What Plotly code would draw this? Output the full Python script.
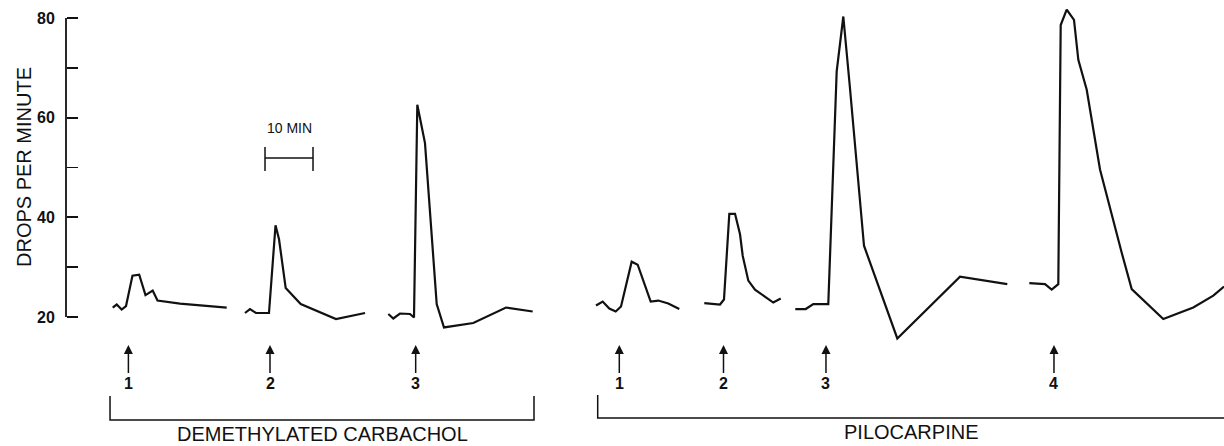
import plotly.graph_objects as go

# ---------------- data (time in minutes, drops per minute) ----------------
dc1_t = [9.73, 10.56, 11.6, 12.5, 13.85, 15.25, 16.56, 18.06, 19.06, 23.75, 33.48]
dc1_v = [21.9, 22.5, 21.5, 22.2, 28.3, 28.5, 24.4, 25.3, 23.3, 22.7, 21.9]
dc2_t = [37.29, 38.33, 39.58, 42.29, 43.65, 44.38, 45.77, 48.9, 56.25, 62.3]
dc2_v = [20.8, 21.6, 20.8, 20.8, 38.4, 35.6, 25.8, 22.6, 19.6, 20.8]
dc3_t = [67.15, 68.19, 69.58, 71.67, 72.5, 72.71, 73.19, 74.79, 77.23, 78.75, 84.85, 91.67, 97.23]
dc3_v = [20.6, 19.7, 20.7, 20.6, 19.9, 34.9, 62.6, 54.9, 22.6, 17.9, 18.8, 21.9, 21.1]
pc1_t = [110.42, 111.81, 113.19, 114.52, 115.63, 117.85, 119.1, 121.81, 123.4, 125.48, 127.77]
pc1_v = [22.3, 23.1, 21.7, 21.1, 22.1, 31.1, 30.5, 23.1, 23.3, 22.7, 21.6]
pc2_t = [132.98, 136.25, 137.08, 138.19, 139.38, 140.42, 140.98, 142.15, 143.54, 147.35, 148.9]
pc2_v = [22.8, 22.5, 23.5, 40.7, 40.7, 36.6, 32.3, 27.3, 25.5, 22.9, 23.7]
pc3_t = [151.94, 154.1, 155.69, 158.81, 160.56, 161.94, 163.33, 166.25, 173.19, 186.25, 196.1]
pc3_v = [21.6, 21.6, 22.6, 22.6, 69.3, 80.3, 65.9, 34.3, 15.7, 28.1, 26.6]
pc4_t = [200.69, 203.96, 205.35, 206.73, 207.23, 208.48, 210.0, 210.9, 212.65, 215.42,
         219.94, 222.02, 228.6, 234.85, 239.02, 241.25]
pc4_v = [26.8, 26.6, 25.5, 26.6, 78.6, 81.7, 79.6, 71.6, 65.6, 49.6,
         32.9, 25.6, 19.6, 21.9, 24.3, 26.1]

segments_t = [dc1_t, dc2_t, dc3_t, pc1_t, pc2_t, pc3_t, pc4_t]
segments_v = [dc1_v, dc2_v, dc3_v, pc1_v, pc2_v, pc3_v, pc4_v]

injection_times = [13.0, 42.5, 72.85, 115.27, 136.98, 158.33, 205.83]
injection_labels = ["1", "2", "3", "1", "2", "3", "4"]

group_names = ["DEMETHYLATED CARBACHOL", "PILOCARPINE"]
group_start = [9.17, 110.77]
group_end = [97.5, 241.25]

y_tickvals = [20, 30, 40, 50, 60, 70, 80]
y_ticktext = ["20", "", "40", "", "60", "", "80"]

scale_start = 41.46
scale_len = 10
scale_label = "10 MIN"
y_title = "DROPS PER MINUTE"

# ---------------- geometry helpers ----------------
W, H = 1224, 446
AX_PX = 66          # pixel x of y axis line
LABEL_RIGHT_PX = 56
PX_PER_MIN = 4.8
Y80_PX, Y20_PX = 18, 317
PX_PER_UNIT = (Y20_PX - Y80_PX) / 60.0


def val(py):
    return 80 - (py - Y80_PX) / PX_PER_UNIT


x_range = [-AX_PX / PX_PER_MIN, (W - AX_PX) / PX_PER_MIN]
y_range = [val(H), val(0)]

BLACK = "#111111"
FONT = "Liberation Sans, Arial, Helvetica, sans-serif"

fig = go.Figure()
for t, v in zip(segments_t, segments_v):
    fig.add_trace(go.Scatter(x=t, y=v, mode="lines",
                             line=dict(color=BLACK, width=2.2),
                             showlegend=False, hoverinfo="skip"))

shapes = []
# y axis line
shapes.append(dict(type="line", xref="paper", yref="y", x0=AX_PX / W, x1=AX_PX / W,
                   y0=20, y1=80, line=dict(color=BLACK, width=1.8)))

# scale bar
sy = val(158)
shapes.append(dict(type="line", xref="x", yref="y", x0=scale_start, x1=scale_start + scale_len,
                   y0=sy, y1=sy, line=dict(color=BLACK, width=1.5)))
for xx in (scale_start, scale_start + scale_len):
    shapes.append(dict(type="line", xref="x", yref="y", x0=xx, x1=xx,
                       y0=val(147), y1=val(171), line=dict(color=BLACK, width=1.5)))

# group brackets
bracket_top = [396, 395]
bracket_bot = [420, 418]
for i in range(len(group_names)):
    x0, x1 = group_start[i], group_end[i]
    yt, yb = val(bracket_top[i]), val(bracket_bot[i])
    if i == 0:
        path = f"M {x0},{yt} L {x0},{yb} L {x1},{yb} L {x1},{yt}"
    else:
        path = f"M {x0},{yt} L {x0},{yb} L {x1},{yb}"
    shapes.append(dict(type="path", xref="x", yref="y", path=path,
                       line=dict(color=BLACK, width=1.5)))

annotations = []
# y tick labels (placed a little away from the axis, as in the original)
for tv, tt in zip(y_tickvals, y_ticktext):
    if tt:
        annotations.append(dict(x=LABEL_RIGHT_PX / W, y=tv, xref="paper", yref="y",
                                text=tt, showarrow=False, xanchor="right", yanchor="middle",
                                borderpad=0,
                                font=dict(family=FONT, size=16, color=BLACK, weight="bold")))

# injection arrows
for t, lab in zip(injection_times, injection_labels):
    annotations.append(dict(x=t, y=val(345), xref="x", yref="y", text=lab,
                            showarrow=True, ax=0, ay=38, axref="pixel", ayref="pixel",
                            arrowhead=2, arrowsize=1.2, arrowwidth=1.5, arrowcolor=BLACK,
                            standoff=0, startstandoff=0,
                            font=dict(family="Liberation Sans Narrow, " + FONT, size=16,
                                      color=BLACK, weight="bold")))

# group labels
label_py = [434, 432]
for i, name in enumerate(group_names):
    cx = (group_start[i] + group_end[i]) / 2
    annotations.append(dict(x=cx, y=val(label_py[i]), xref="x", yref="y", text=name,
                            showarrow=False, xanchor="center", yanchor="middle",
                            borderpad=0,
                            font=dict(family=FONT, size=20, color=BLACK)))

# scale bar label
annotations.append(dict(x=scale_start + scale_len / 2, y=val(128), xref="x", yref="y",
                        text=scale_label, showarrow=False,
                        font=dict(family=FONT, size=14, color=BLACK)))

# y title
annotations.append(dict(x=24 / W, y=1 - 167 / H, xref="paper", yref="paper",
                        text=y_title, textangle=-90, showarrow=False,
                        xanchor="center", yanchor="middle", borderpad=0,
                        font=dict(family=FONT, size=20, color=BLACK)))

fig.update_layout(
    width=W, height=H,
    margin=dict(l=0, r=0, t=0, b=0),
    paper_bgcolor="white", plot_bgcolor="white",
    xaxis=dict(range=x_range, visible=False, fixedrange=True),
    yaxis=dict(range=y_range, anchor="free", position=AX_PX / W,
               showgrid=False, zeroline=False, showline=False,
               tickvals=y_tickvals, showticklabels=False,
               ticks="inside", ticklen=11, tickwidth=1.8, tickcolor=BLACK,
               fixedrange=True),
    shapes=shapes,
    annotations=annotations,
    showlegend=False,
)

fig.write_html("out.html",
               config={"displayModeBar": False, "staticPlot": True},
               post_script="document.body.style.margin='0';document.body.style.overflow='hidden';")
